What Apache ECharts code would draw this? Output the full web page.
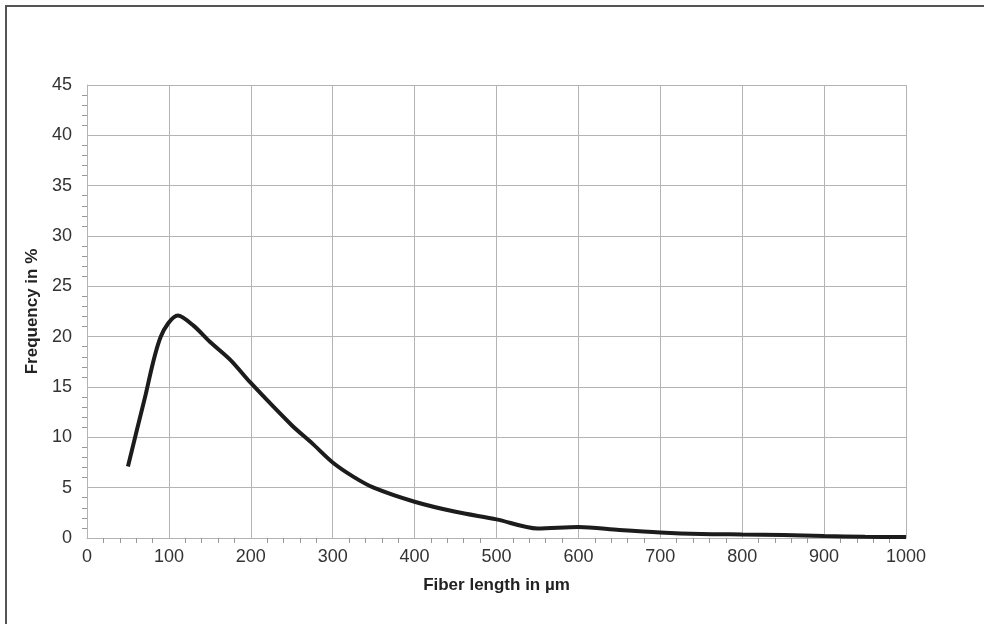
<!DOCTYPE html>
<html>
<head>
<meta charset="utf-8">
<script src="https://cdn.jsdelivr.net/npm/echarts@6/dist/echarts.min.js"></script>
<style>
  html, body { margin: 0; padding: 0; background: #fff; }
  #frame {
    position: absolute; left: 5px; top: 5px; width: 1000px; height: 700px;
    border-left: 2px solid #555; border-top: 2px solid #555;
  }
  #myChart { position: absolute; left: 0; top: 0; width: 984px; height: 624px; }
</style>
</head>
<body>
<div id="frame"></div>
<div id="myChart"></div>
<script>
// fiber length (µm) and frequency (%)
const fiberLength = [50, 70, 90, 111, 130, 150, 175, 200, 250, 275, 300, 325, 350, 400, 450, 500, 550, 600, 650, 700, 750, 800, 850, 900, 950, 1000]
const frequency = [7.1, 13.7, 20.0, 22.1, 21.1, 19.5, 17.7, 15.4, 11.2, 9.4, 7.5, 6.1, 5.0, 3.6, 2.6, 1.85, 0.95, 1.1, 0.8, 0.55, 0.4, 0.35, 0.3, 0.2, 0.12, 0.1]

let myChart = echarts.init(document.getElementById('myChart'))
let gridColor = '#b4b4b4'
let option = {
  animation: false,
  textStyle: { fontFamily: 'Liberation Sans, Arial, sans-serif' },
  grid: { left: 87, top: 85, right: 78, bottom: 86 },
  xAxis: {
    type: 'value',
    min: 0,
    max: 1000,
    interval: 100,
    name: 'Fiber length in µm',
    nameLocation: 'middle',
    nameGap: 39,
    nameTextStyle: { fontSize: 17, fontWeight: 'bold', color: '#222' },
    axisLine: { lineStyle: { color: gridColor } },
    axisTick: { show: false, inside: true },
    // minor ticks drawn into the plot area
    minorTick: { show: true, splitNumber: 5, length: -5, lineStyle: { color: '#999' } },
    axisLabel: { fontSize: 18, color: '#333', margin: 10, formatter: (v) => String(v) },
    splitLine: { lineStyle: { color: gridColor } }
  },
  yAxis: {
    type: 'value',
    min: 0,
    max: 45,
    interval: 5,
    name: 'Frequency in %',
    nameLocation: 'middle',
    nameGap: 35,
    nameTextStyle: { fontSize: 17, fontWeight: 'bold', color: '#222' },
    axisLine: { show: true, lineStyle: { color: gridColor } },
    axisTick: { show: false, inside: true },
    minorTick: { show: true, splitNumber: 5, length: -5, lineStyle: { color: '#999' } },
    axisLabel: { fontSize: 18, color: '#333', margin: 15 },
    splitLine: { lineStyle: { color: gridColor } }
  },
  series: [
    {
      type: 'line',
      data: fiberLength.map((x, i) => [x, frequency[i]]),
      smooth: 0.3,
      showSymbol: false,
      lineStyle: { color: '#1c1c1c', width: 4 }
    }
  ]
}
myChart.setOption(option)
</script>
</body>
</html>
